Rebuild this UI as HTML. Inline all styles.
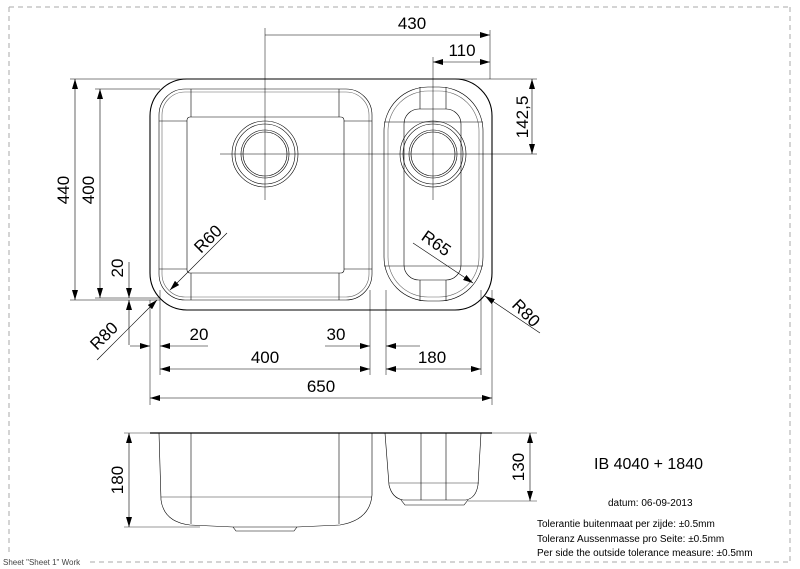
<!DOCTYPE html>
<html><head><meta charset="utf-8"><style>
html,body{margin:0;padding:0;background:#fff;}
svg{display:block;font-family:"Liberation Sans",Arial,sans-serif;}
</style></head><body>
<svg width="800" height="569" viewBox="0 0 800 569" xmlns="http://www.w3.org/2000/svg">
<defs>
<marker id="a" viewBox="0 0 10 6" refX="10" refY="3" markerWidth="10" markerHeight="6" orient="auto-start-reverse" markerUnits="userSpaceOnUse"><path d="M0,0L10,3L0,6z" fill="#000"/></marker>
</defs>
<g stroke="#aaa" stroke-width="1" stroke-dasharray="5,4" fill="none">
<line x1="9" y1="7" x2="790" y2="7"/><line x1="790" y1="7" x2="790" y2="562"/>
<line x1="9" y1="7" x2="9" y2="555"/><line x1="90" y1="562" x2="790" y2="562"/>
</g>
<text x="3" y="565" font-size="8" fill="#444">Sheet "Sheet 1" Work</text>

<g fill="none" stroke="#000" stroke-width="0.6">
<rect x="150" y="79" width="342" height="231" rx="37" stroke-width="1.1"/>
<rect x="159" y="89" width="213" height="211" rx="26"/>
<rect x="162" y="92" width="207" height="205" rx="23" stroke="#666"/>
<rect x="187" y="117" width="157" height="156" rx="3"/>
<line x1="191" y1="89" x2="191" y2="117"/><line x1="339" y1="89" x2="339" y2="117"/>
<line x1="191" y1="273" x2="191" y2="300"/><line x1="339" y1="273" x2="339" y2="300"/>
<line x1="159" y1="121" x2="187" y2="121"/><line x1="344" y1="121" x2="372" y2="121"/>
<line x1="159" y1="269" x2="187" y2="269"/><line x1="344" y1="269" x2="372" y2="269"/>
<circle cx="265" cy="154" r="33"/><circle cx="265" cy="154" r="30"/><circle cx="265" cy="154" r="24"/><circle cx="265" cy="154" r="22"/>
<rect x="384" y="87" width="99" height="214" rx="44"/>
<rect x="388" y="91" width="91" height="206" rx="40" stroke="#666"/>
<rect x="404" y="109" width="57" height="171" rx="15"/>
<line x1="420" y1="87" x2="420" y2="109"/><line x1="446" y1="87" x2="446" y2="109"/>
<line x1="420" y1="280" x2="420" y2="301"/><line x1="446" y1="280" x2="446" y2="301"/>
<line x1="384" y1="122" x2="483" y2="122"/><line x1="384" y1="266" x2="483" y2="266"/>
<circle cx="433" cy="154" r="33"/><circle cx="433" cy="154" r="30"/><circle cx="433" cy="154" r="24"/><circle cx="433" cy="154" r="22"/>
<line x1="220" y1="154" x2="537" y2="154" stroke-width="0.5"/>
<line x1="265" y1="28" x2="265" y2="200" stroke-width="0.5"/>
<line x1="433" y1="57" x2="433" y2="200" stroke-width="0.5"/>
<line x1="70" y1="79" x2="537" y2="79" stroke-width="0.5"/>
<line x1="95" y1="89" x2="160" y2="89" stroke-width="0.5"/>
<line x1="95" y1="298" x2="160" y2="298" stroke-width="0.5"/>
<line x1="70" y1="300" x2="160" y2="300" stroke-width="0.5"/>
<line x1="490" y1="30" x2="490" y2="79" stroke-width="0.5"/>
<line x1="150" y1="300" x2="150" y2="405" stroke-width="0.5"/>
<line x1="160" y1="290" x2="160" y2="375" stroke-width="0.5"/>
<line x1="370" y1="290" x2="370" y2="375" stroke-width="0.5"/>
<line x1="386" y1="290" x2="386" y2="375" stroke-width="0.5"/>
<line x1="481" y1="290" x2="481" y2="375" stroke-width="0.5"/>
<line x1="492" y1="290" x2="492" y2="405" stroke-width="0.5"/>
</g>

<g stroke="#000" stroke-width="0.6" fill="none">
<line x1="265" y1="35" x2="490" y2="35" marker-end="url(#a)"/>
<line x1="433" y1="62" x2="490" y2="62" marker-start="url(#a)" marker-end="url(#a)"/>
<line x1="532" y1="79" x2="532" y2="154" marker-start="url(#a)" marker-end="url(#a)"/>
<line x1="75" y1="79" x2="75" y2="300" marker-start="url(#a)" marker-end="url(#a)"/>
<line x1="100" y1="89" x2="100" y2="298" marker-start="url(#a)" marker-end="url(#a)"/>
<line x1="129" y1="262" x2="129" y2="298" marker-end="url(#a)"/>
<line x1="129" y1="345" x2="129" y2="300" marker-end="url(#a)"/>
<line x1="157" y1="300" x2="97" y2="360" marker-start="url(#a)"/>
<line x1="170" y1="290" x2="227" y2="233" marker-start="url(#a)"/>
<line x1="473" y1="283" x2="413" y2="243" marker-start="url(#a)"/>
<line x1="485" y1="296" x2="540" y2="333" marker-start="url(#a)"/>
<line x1="130" y1="346" x2="150" y2="346" marker-end="url(#a)"/>
<line x1="208" y1="346" x2="160" y2="346" marker-end="url(#a)"/>
<line x1="325" y1="346" x2="370" y2="346" marker-end="url(#a)"/>
<line x1="420" y1="346" x2="386" y2="346" marker-end="url(#a)"/>
<line x1="160" y1="369" x2="370" y2="369" marker-start="url(#a)" marker-end="url(#a)"/>
<line x1="386" y1="369" x2="481" y2="369" marker-start="url(#a)" marker-end="url(#a)"/>
<line x1="150" y1="398" x2="492" y2="398" marker-start="url(#a)" marker-end="url(#a)"/>
<line x1="150" y1="433" x2="492" y2="433" stroke-width="1.3"/>
<path d="M159,433 L161,500 Q164,522 190,525 L233,527 L297,527 L340,525 Q370,520 372,495 L372,433"/>
<path d="M233,527 L236,531 L294,531 L297,527"/>
<line x1="191" y1="433" x2="191" y2="524"/><line x1="339" y1="433" x2="339" y2="524"/>
<line x1="161" y1="497" x2="372" y2="497" stroke-width="0.4"/>
<path d="M385,433 L389,485 Q392,498 403,500 L466,500 Q476,498 478,485 L481,433"/>
<path d="M401,500 L405,505 L464,505 L468,500"/>
<line x1="421" y1="433" x2="421" y2="500"/><line x1="446" y1="433" x2="446" y2="500"/>
<line x1="389" y1="483" x2="479" y2="483" stroke-width="0.4"/>
<line x1="124" y1="433" x2="150" y2="433" stroke-width="0.4"/>
<line x1="124" y1="527" x2="200" y2="527" stroke-width="0.4"/>
<line x1="492" y1="433" x2="537" y2="433" stroke-width="0.4"/>
<line x1="468" y1="501" x2="537" y2="501" stroke-width="0.4"/>
<line x1="129" y1="433" x2="129" y2="527" marker-start="url(#a)" marker-end="url(#a)"/>
<line x1="530" y1="433" x2="530" y2="501" marker-start="url(#a)" marker-end="url(#a)"/>
</g>

<g font-size="17" fill="#000">
<text x="412" y="29" text-anchor="middle">430</text>
<text x="462" y="56" text-anchor="middle">110</text>
<text transform="translate(528,117) rotate(-90)" text-anchor="middle">142,5</text>
<text transform="translate(69,190) rotate(-90)" text-anchor="middle">440</text>
<text transform="translate(94,190) rotate(-90)" text-anchor="middle">400</text>
<text transform="translate(123,268) rotate(-90)" text-anchor="middle">20</text>
<text transform="translate(108,340) rotate(-45)" text-anchor="middle">R80</text>
<text transform="translate(212,243) rotate(-45)" text-anchor="middle">R60</text>
<text transform="translate(433,248) rotate(35)" text-anchor="middle">R65</text>
<text transform="translate(522,317) rotate(45)" text-anchor="middle">R80</text>
<text x="199" y="340" text-anchor="middle">20</text>
<text x="336" y="340" text-anchor="middle">30</text>
<text x="265" y="363" text-anchor="middle">400</text>
<text x="432" y="363" text-anchor="middle">180</text>
<text x="321" y="392" text-anchor="middle">650</text>
<text transform="translate(123,480) rotate(-90)" text-anchor="middle">180</text>
<text transform="translate(524,467) rotate(-90)" text-anchor="middle">130</text>
<text x="594" y="469" font-size="16">IB 4040 + 1840</text>
<text x="608" y="506" font-size="10">datum: 06-09-2013</text>
<text x="537" y="527" font-size="10">Tolerantie buitenmaat per zijde: ±0.5mm</text>
<text x="537" y="542" font-size="10">Toleranz Aussenmasse pro Seite: ±0.5mm</text>
<text x="537" y="556" font-size="10">Per side the outside tolerance measure: ±0.5mm</text>
</g>
</svg>
</body></html>
